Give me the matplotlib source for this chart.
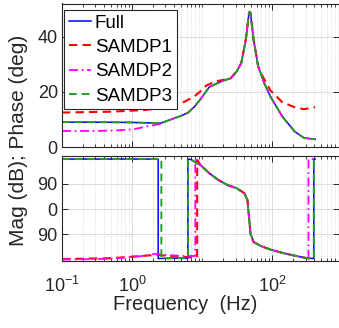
import numpy as np
import matplotlib
matplotlib.use('Agg')
import matplotlib.pyplot as plt
from matplotlib.ticker import NullFormatter

plt.rcParams['font.family'] = ['Liberation Sans', 'DejaVu Sans']
plt.rcParams['mathtext.fontset'] = 'custom'
plt.rcParams['mathtext.rm'] = 'Liberation Sans'
plt.rcParams['mathtext.default'] = 'regular'

# ---- top panel ----
f_full_top = [0.1, 0.3, 1.0, 2.0, 2.55, 3.8, 5.0, 6.27, 7.7, 9.36, 12.6, 15.5, 18.9, 25.6,
              31.2, 36.2, 42.1, 46.7, 47.8, 49.0, 54.3, 63.1, 76.9, 94.3, 140, 210, 284, 403, 411]
full_top = [9.0, 9.0, 8.9, 8.7, 8.6, 10.2, 11.3, 12.4, 14.5, 17.1, 21.7, 22.8, 23.8, 24.9,
            27.4, 30.4, 38.9, 48.6, 49.0, 48.6, 38.9, 29.2, 23.2, 18.3, 11.0, 5.6, 3.3, 2.8, 2.8]

f_sam1_top = [0.1, 0.5, 1.5, 2.55, 3.1, 4.2, 5.7, 7.7, 9.4, 11.4, 15.5, 21.0, 25.6,
              31.2, 36.2, 42.1, 46.7, 47.8, 49.0, 54.3, 63.1, 70.0, 94.3, 140, 210, 284, 403, 411]
sam1_top = [12.5, 12.8, 13.4, 14.1, 14.4, 15.2, 16.5, 18.3, 20.1, 22.2, 23.8, 24.4, 24.9,
            27.4, 30.4, 38.9, 48.6, 49.0, 48.6, 38.9, 29.2, 26.5, 20.5, 16.2, 14.4, 13.7, 14.4, 14.4]

f_sam2_top = [0.1, 0.3, 0.6, 1.03, 1.6, 2.55, 3.8, 5.0, 6.27, 7.7, 9.36, 12.6, 15.5, 18.9, 25.6,
              31.2, 36.2, 42.1, 46.7, 47.8, 49.0, 54.3, 63.1, 76.9, 94.3, 140, 210, 284, 403, 411]
sam2_top = [5.8, 5.8, 6.0, 6.4, 7.4, 8.4, 10.2, 11.3, 12.4, 14.5, 17.1, 21.7, 22.8, 23.8, 24.9,
            27.4, 30.4, 38.9, 48.6, 49.0, 48.6, 38.9, 29.2, 23.2, 18.3, 11.0, 5.6, 3.3, 2.8, 2.8]

f_sam3_top = f_full_top
sam3_top = full_top

# ---- bottom panel (phase, with the wraps as seen) ----
f_full_bot = [0.1, 1.0, 2.36, 2.36, 4.0, 6.27, 6.27, 7.0, 7.67, 9.36, 12.7, 17.1, 23.1, 31.2,
              40.2, 44.4, 46.7, 49.0, 54.3, 69.7, 94.2, 140.6, 210, 314, 393, 393, 411]
full_bot = [179, 179, 179, -177, -176, -176, 179, 177, 170, 158, 128, 104, 86, 74.5,
            56.5, 32, -28, -88, -118, -133, -145, -157, -167, -176, -177, 179, 179]

f_sam1_bot = [0.1, 0.5, 1.4, 2.2, 3.0, 5.0, 7.0, 8.5, 8.5, 9.36, 12.7, 17.1, 23.1, 31.2,
              40.2, 44.4, 46.7, 49.0, 54.3, 69.7, 94.2, 140.6, 210, 314, 411]
sam1_bot = [-179, -176, -168, -164, -167, -171, -173, -173, 176, 160, 128, 104, 86, 74.5,
            56.5, 32, -28, -88, -118, -133, -145, -157, -167, -176, -178]

f_sam2_bot = [0.1, 0.5, 1.4, 2.2, 3.0, 5.0, 8.0, 8.0, 9.36, 12.7, 17.1, 23.1, 31.2,
              40.2, 44.4, 46.7, 49.0, 54.3, 69.7, 94.2, 140.6, 210, 314, 330, 330, 411]
sam2_bot = [-181, -178, -168, -160, -164, -168, -168, 176, 160, 128, 104, 86, 74.5,
            56.5, 32, -28, -88, -118, -133, -145, -157, -167, -176, -177, 179, 179]

f_sam3_bot = [0.1, 1.0, 2.62, 2.62, 4.0, 6.27, 6.27, 7.0, 7.67, 9.36, 12.7, 17.1, 23.1, 31.2,
              40.2, 44.4, 46.7, 49.0, 54.3, 69.7, 94.2, 140.6, 210, 314, 393, 393, 411]
sam3_bot = [179, 179, 179, -177, -176, -176, 179, 177, 170, 158, 128, 104, 86, 74.5,
            56.5, 32, -28, -88, -118, -133, -145, -157, -167, -176, -177, 179, 179]

labels = ['Full', 'SAMDP1', 'SAMDP2', 'SAMDP3']
colors = ['#0000ff', '#ff0000', '#ff00ff', '#22a022']
styles = ['-', (0, (4, 2.5)), (0, (5, 2, 1, 2)), (0, (4, 2.5))]
widths = [1.1, 1.5, 1.3, 1.4]

W, H = 339, 328
fig = plt.figure(figsize=(W / 100, H / 100), dpi=100)
ax1 = fig.add_axes([62 / W, 1 - 147 / H, (W - 62) / W, 143.5 / H])
ax2 = fig.add_axes([62 / W, 1 - 261 / H, (W - 62) / W, 105 / H])

top = [(f_full_top, full_top), (f_sam1_top, sam1_top), (f_sam2_top, sam2_top), (f_sam3_top, sam3_top)]
bot = [(f_full_bot, full_bot), (f_sam1_bot, sam1_bot), (f_sam2_bot, sam2_bot), (f_sam3_bot, sam3_bot)]

for i in range(4):
    ax1.plot(top[i][0], top[i][1], color=colors[i], ls=styles[i], lw=widths[i], label=labels[i])
    ax2.plot(bot[i][0], bot[i][1], color=colors[i], ls=styles[i], lw=widths[i])

for ax in (ax1, ax2):
    ax.set_xscale('log')
    ax.set_xlim(0.1, 411)
    ax.set_xticks([0.1, 1, 100])
    ax.set_xticks([m * 10.0 ** e for e in range(-1, 3) for m in range(2, 10)] + [10], minor=True)
    ax.xaxis.set_minor_formatter(NullFormatter())
    ax.grid(which='major', color='#dcdcdc', lw=0.7)
    ax.grid(which='minor', color='#d0d0d0', lw=0.6, ls=':')
    ax.set_axisbelow(True)
    ax.tick_params(which='both', direction='in', top=True, right=True, colors='#262626',
                   labelsize=13, labelcolor='#262626')
    ax.tick_params(which='major', length=4, width=0.7)
    ax.tick_params(which='minor', length=2.5, width=0.6)
    for s in ax.spines.values():
        s.set_color('#262626')
        s.set_linewidth(0.8)

ax1.set_ylim(0, 52)
ax1.set_yticks([0, 20, 40])
ax1.tick_params(axis='y', pad=3)
ax1.set_xticklabels([])

ax2.set_ylim(-186, 190)
ax2.set_yticks([-90, 0, 90])
ax2.set_yticklabels(['90', '0', '90'])
ax2.tick_params(axis='y', pad=3)
ax2.set_xticklabels(['$10^{-1}$', '$10^{0}$', '$10^{2}$'])
ax2.tick_params(axis='x', pad=11)

leg = ax1.legend(loc='upper left', bbox_to_anchor=(0.007, 0.955), borderaxespad=0,
                 fontsize=13.5, handlelength=1.2, handletextpad=0.2, labelspacing=0.38,
                 borderpad=0.25, fancybox=False, framealpha=1, edgecolor='#262626')
leg.get_frame().set_linewidth(0.8)

fig.text(19 / W, 1 - 140 / H, 'Mag (dB); Phase (deg)', rotation=90, ha='center', va='center',
         fontsize=15, color='#262626')
fig.text(185 / W, 1 - 305 / H, 'Frequency  (Hz)', ha='center', va='center',
         fontsize=14.5, color='#262626')

fig.savefig('out.png', dpi=100)
